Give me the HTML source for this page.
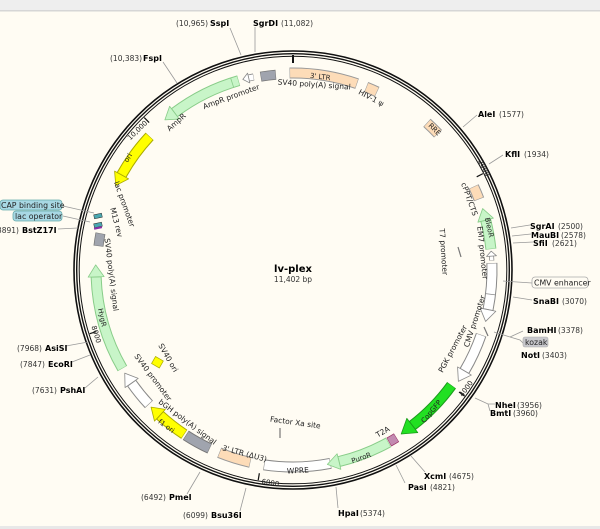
<!DOCTYPE html>
<html><head><meta charset="utf-8"><style>
html,body{margin:0;padding:0;background:#fffcf3;}
svg{display:block;font-family:"DejaVu Sans","Liberation Sans",sans-serif;}
.s{font-size:8px;font-weight:bold;fill:#000}
.n{font-size:7.5px;fill:#333}
.f{font-size:7.5px;fill:#222}
.t{font-size:7px;fill:#222}
</style></head><body>
<svg width="600" height="529" viewBox="0 0 600 529" xmlns="http://www.w3.org/2000/svg">
<rect x="0" y="0" width="600" height="10" fill="#eeeeee"/>
<rect x="0" y="10" width="600" height="1.5" fill="#d6d6d6"/>
<rect x="0" y="526" width="600" height="3" fill="#e8e8e8"/>

<g fill="none" stroke="#111">
<circle cx="293" cy="270" r="219" stroke-width="1.6"/>
<circle cx="293" cy="270" r="216.3" stroke-width="1.4"/>
<circle cx="293" cy="270" r="213.8" stroke-width="1"/>
</g>

<g stroke="#111" stroke-width="1.2">
<line x1="293" y1="55" x2="293" y2="63" stroke-width="2"/>
<g transform="translate(293 270) rotate(63.1)"><line x1="0" y1="-213" x2="0" y2="-206"/></g>
<g transform="translate(293 270) rotate(126.3)"><line x1="0" y1="-213" x2="0" y2="-206"/></g>
<g transform="translate(293 270) rotate(189.4)"><line x1="0" y1="-213" x2="0" y2="-206"/></g>
<g transform="translate(293 270) rotate(252.6)"><line x1="0" y1="-213" x2="0" y2="-206"/></g>
<g transform="translate(293 270) rotate(315.7)"><line x1="0" y1="-213" x2="0" y2="-206"/></g>
</g>
<g class="t">
<text x="482" y="169" transform="rotate(63 482 169)" text-anchor="middle">2000</text>
<text x="468" y="390" transform="rotate(-54 468 390)" text-anchor="middle">4000</text>
<text x="270" y="485" transform="rotate(9 270 485)" text-anchor="middle">6000</text>
<text x="94" y="335" transform="rotate(73 94 335)" text-anchor="middle">8000</text>
<text x="139" y="132" transform="rotate(-44 139 132)" text-anchor="middle">10,000</text>
</g>

<g fill="none" transform="rotate(-90 293 270)">
<circle cx="293" cy="270" r="197" pathLength="360" stroke="#999" stroke-width="11" stroke-dasharray="20 340" transform="rotate(-1 293 270)"/>
<circle cx="293" cy="270" r="197" pathLength="360" stroke="#fddcb8" stroke-width="9" stroke-dasharray="19.7 340.3" transform="rotate(-0.85 293 270)"/>
<circle cx="293" cy="270" r="197" pathLength="360" stroke="#999" stroke-width="11" stroke-dasharray="3.5 356.5" transform="rotate(21.8 293 270)"/>
<circle cx="293" cy="270" r="197" pathLength="360" stroke="#fddcb8" stroke-width="9" stroke-dasharray="3.2 356.8" transform="rotate(21.95 293 270)"/>
<circle cx="293" cy="270" r="199" pathLength="360" stroke="#999" stroke-width="11" stroke-dasharray="4.5 355.5" transform="rotate(42.3 293 270)"/>
<circle cx="293" cy="270" r="199" pathLength="360" stroke="#fddcb8" stroke-width="9" stroke-dasharray="4.2 355.8" transform="rotate(42.45 293 270)"/>
<circle cx="293" cy="270" r="199" pathLength="360" stroke="#999" stroke-width="11" stroke-dasharray="4 356" transform="rotate(65.2 293 270)"/>
<circle cx="293" cy="270" r="199" pathLength="360" stroke="#fddcb8" stroke-width="9" stroke-dasharray="3.7 356.3" transform="rotate(65.35 293 270)"/>
<circle cx="293" cy="270" r="199" pathLength="360" stroke="#8c8" stroke-width="11" stroke-dasharray="8.5 351.5" transform="rotate(75.5 293 270)"/>
<circle cx="293" cy="270" r="199" pathLength="360" stroke="#c8f5c8" stroke-width="9" stroke-dasharray="8.2 351.8" transform="rotate(75.65 293 270)"/>
<circle cx="293" cy="270" r="199" pathLength="360" stroke="#888" stroke-width="5" stroke-dasharray="1.3 358.7" transform="rotate(86 293 270)"/>
<circle cx="293" cy="270" r="199" pathLength="360" stroke="#fff" stroke-width="3.5" stroke-dasharray="1.1 358.9" transform="rotate(86.1 293 270)"/>
<circle cx="293" cy="270" r="199" pathLength="360" stroke="#888" stroke-width="11" stroke-dasharray="13.5 346.5" transform="rotate(88 293 270)"/>
<circle cx="293" cy="270" r="199" pathLength="360" stroke="#fff" stroke-width="9" stroke-dasharray="13.2 346.8" transform="rotate(88.15 293 270)"/>
<circle cx="293" cy="270" r="199" pathLength="360" stroke="#888" stroke-width="11" stroke-dasharray="11.5 348.5" transform="rotate(109 293 270)"/>
<circle cx="293" cy="270" r="199" pathLength="360" stroke="#fff" stroke-width="9" stroke-dasharray="11.2 348.8" transform="rotate(109.15 293 270)"/>
<circle cx="293" cy="270" r="196" pathLength="360" stroke="#1a9a1a" stroke-width="11" stroke-dasharray="16.5 343.5" transform="rotate(126 293 270)"/>
<circle cx="293" cy="270" r="196" pathLength="360" stroke="#22e022" stroke-width="9" stroke-dasharray="16.2 343.8" transform="rotate(126.15 293 270)"/>
<circle cx="293" cy="270" r="197" pathLength="360" stroke="#936" stroke-width="10" stroke-dasharray="2.6 357.4" transform="rotate(148.3 293 270)"/>
<circle cx="293" cy="270" r="197" pathLength="360" stroke="#c38ab0" stroke-width="8.5" stroke-dasharray="2.3 357.7" transform="rotate(148.45 293 270)"/>
<circle cx="293" cy="270" r="197" pathLength="360" stroke="#8c8" stroke-width="11" stroke-dasharray="15.5 344.5" transform="rotate(151 293 270)"/>
<circle cx="293" cy="270" r="197" pathLength="360" stroke="#c8f5c8" stroke-width="9" stroke-dasharray="15.2 344.8" transform="rotate(151.15 293 270)"/>
<circle cx="293" cy="270" r="197" pathLength="360" stroke="#888" stroke-width="11" stroke-dasharray="19.5 340.5" transform="rotate(169 293 270)"/>
<circle cx="293" cy="270" r="197" pathLength="360" stroke="#fff" stroke-width="9" stroke-dasharray="19.2 340.8" transform="rotate(169.15 293 270)"/>
<circle cx="293" cy="270" r="197" pathLength="360" stroke="#999" stroke-width="11" stroke-dasharray="9.5 350.5" transform="rotate(192.5 293 270)"/>
<circle cx="293" cy="270" r="197" pathLength="360" stroke="#fddcb8" stroke-width="9" stroke-dasharray="9.2 350.8" transform="rotate(192.65 293 270)"/>
<circle cx="293" cy="270" r="197" pathLength="360" stroke="#777" stroke-width="11" stroke-dasharray="8 352" transform="rotate(205 293 270)"/>
<circle cx="293" cy="270" r="197" pathLength="360" stroke="#a0a4ae" stroke-width="9" stroke-dasharray="7.7 352.3" transform="rotate(205.15 293 270)"/>
<!-- f1 ori 213.5-222.5 -->
<circle cx="293" cy="270" r="197" pathLength="360" stroke="#aa0" stroke-width="11" stroke-dasharray="9 351" transform="rotate(213.5 293 270)"/>
<circle cx="293" cy="270" r="197" pathLength="360" stroke="#ffff00" stroke-width="9" stroke-dasharray="8.7 351.3" transform="rotate(213.65 293 270)"/>
<!-- SV40 prom 227-235 -->
<circle cx="293" cy="270" r="197" pathLength="360" stroke="#888" stroke-width="11" stroke-dasharray="8 352" transform="rotate(227 293 270)"/>
<circle cx="293" cy="270" r="197" pathLength="360" stroke="#fff" stroke-width="9" stroke-dasharray="7.7 352.3" transform="rotate(227.15 293 270)"/>
<!-- HygR 240-268 -->
<circle cx="293" cy="270" r="197" pathLength="360" stroke="#8c8" stroke-width="11" stroke-dasharray="28 332" transform="rotate(240 293 270)"/>
<circle cx="293" cy="270" r="197" pathLength="360" stroke="#c8f5c8" stroke-width="9" stroke-dasharray="27.7 332.3" transform="rotate(240.15 293 270)"/>
<circle cx="293" cy="270" r="196" pathLength="360" stroke="#777" stroke-width="10" stroke-dasharray="3.8 356.2" transform="rotate(277 293 270)"/>
<circle cx="293" cy="270" r="196" pathLength="360" stroke="#a0a4ae" stroke-width="8.5" stroke-dasharray="3.5 356.5" transform="rotate(277.15 293 270)"/>
<circle cx="293" cy="270" r="196" pathLength="360" stroke="#aa0" stroke-width="11" stroke-dasharray="14 346" transform="rotate(299 293 270)"/>
<circle cx="293" cy="270" r="196" pathLength="360" stroke="#ffff00" stroke-width="9" stroke-dasharray="13.7 346.3" transform="rotate(299.15 293 270)"/>
<circle cx="293" cy="270" r="197" pathLength="360" stroke="#8c8" stroke-width="11" stroke-dasharray="21 339" transform="rotate(323 293 270)"/>
<circle cx="293" cy="270" r="197" pathLength="360" stroke="#c8f5c8" stroke-width="9" stroke-dasharray="20.7 339.3" transform="rotate(323.15 293 270)"/>
<circle cx="293" cy="270" r="197" pathLength="360" stroke="#888" stroke-width="7" stroke-dasharray="1.5 358.5" transform="rotate(347 293 270)"/>
<circle cx="293" cy="270" r="197" pathLength="360" stroke="#fff" stroke-width="5.5" stroke-dasharray="1.3 358.7" transform="rotate(347.1 293 270)"/>
<circle cx="293" cy="270" r="196" pathLength="360" stroke="#777" stroke-width="10" stroke-dasharray="4.5 355.5" transform="rotate(350.5 293 270)"/>
<circle cx="293" cy="270" r="196" pathLength="360" stroke="#a0a4ae" stroke-width="8.5" stroke-dasharray="4.2 355.8" transform="rotate(350.65 293 270)"/>
</g>

<g stroke-width="0.8" stroke-linejoin="round">
<g transform="translate(293 270) rotate(75.5)"><polygon points="0,-207 0,-191 -12,-199" fill="#c8f5c8" stroke="#8c8"/></g>
<g transform="translate(293 270) rotate(86)"><polygon points="0,-204 0,-194 -5,-199" fill="#fff" stroke="#888"/></g>
<g transform="translate(293 270) rotate(101.5)"><polygon points="0,-207 0,-191 12,-199" fill="#fff" stroke="#888"/></g>
<g transform="translate(293 270) rotate(120.5)"><polygon points="0,-207 0,-191 12,-199" fill="#fff" stroke="#888"/></g>
<g transform="translate(293 270) rotate(142.5)"><polygon points="0,-205 0,-187 14,-196" fill="#22e022" stroke="#1a9a1a"/></g>
<g transform="translate(293 270) rotate(166.5)"><polygon points="0,-205 0,-189 12,-197" fill="#c8f5c8" stroke="#8c8"/></g>
<g transform="translate(293 270) rotate(222.5)"><polygon points="0,-205 0,-189 12,-197" fill="#ffff00" stroke="#aa0"/></g>
<g transform="translate(293 270) rotate(235)"><polygon points="0,-205 0,-189 12,-197" fill="#fff" stroke="#888"/></g>
<g transform="translate(293 270) rotate(268)"><polygon points="0,-205 0,-189 12,-197" fill="#c8f5c8" stroke="#8c8"/></g>
<g transform="translate(293 270) rotate(299)"><polygon points="0,-204 0,-188 -12,-196" fill="#ffff00" stroke="#aa0"/></g>
<g transform="translate(293 270) rotate(323)"><polygon points="0,-205 0,-189 -12,-197" fill="#c8f5c8" stroke="#8c8"/></g>
<g transform="translate(293 270) rotate(347)"><polygon points="0,-202 0,-192 -6,-197" fill="#fff" stroke="#888"/></g>
</g>
<g transform="translate(293 270) rotate(342)"><line x1="0" y1="-202" x2="0" y2="-192" stroke="#8c8" stroke-width="0.8"/></g>
<g transform="translate(293 270) rotate(97)"><line x1="0" y1="-204" x2="0" y2="-194" stroke="#888" stroke-width="0.8"/></g>

<g stroke="#777" stroke-width="1.2">
<line x1="458" y1="247" x2="461" y2="257"/>
<line x1="484" y1="327" x2="488" y2="336"/>
<line x1="280" y1="428" x2="280" y2="438"/>
</g>
<rect x="153" y="358" width="9" height="8" fill="#ffff00" stroke="#aa0" stroke-width="0.7" transform="rotate(30 157 362)"/>
<rect x="94" y="214" width="8" height="4" fill="#4aa8b0" stroke="#333" stroke-width="0.5" transform="rotate(-12 98 216)"/>
<rect x="94" y="223" width="8" height="4" fill="#4aa8b0" stroke="#333" stroke-width="0.5" transform="rotate(-12 98 225)"/>
<rect x="94" y="227" width="8" height="2" fill="#8a2fa8" transform="rotate(-12 98 228)"/>

<g class="f" text-anchor="middle">
<text x="320" y="79" transform="rotate(7 320 79)" font-size="7">3' LTR</text>
<text x="314" y="87" transform="rotate(4 314 87)">SV40 poly(A) signal</text>
<text x="370" y="100" transform="rotate(28 370 100)">HIV-1 ψ</text>
<text x="232" y="99" transform="rotate(-20 232 99)">AmpR promoter</text>
<text x="178" y="124" transform="rotate(-42 178 124)">AmpR</text>
<text x="433" y="131" transform="rotate(45 433 131)" font-size="7">RRE</text>
<text x="467" y="200" transform="rotate(70 467 200)">cPPT/CTS</text>
<text x="487" y="228" transform="rotate(78 487 228)" font-size="7">BleoR</text>
<text x="480" y="253" transform="rotate(84 480 253)">EM7 promoter</text>
<text x="441" y="252" transform="rotate(86 441 252)">T7 promoter</text>
<text x="477" y="322" transform="rotate(-72 477 322)">CMV promoter</text>
<text x="455" y="350" transform="rotate(-62 455 350)">PGK promoter</text>
<text x="433" y="413" transform="rotate(-50 433 413)" font-size="7">CopGFP</text>
<text x="384" y="434" transform="rotate(-30 384 434)">T2A</text>
<text x="362" y="460" transform="rotate(-19 362 460)" font-size="7">PuroR</text>
<text x="298" y="473" transform="rotate(-3 298 473)">WPRE</text>
<text x="295" y="425" transform="rotate(8 295 425)">Factor Xa site</text>
<text x="244" y="456" transform="rotate(15 244 456)">3' LTR (ΔU3)</text>
<text x="186" y="424" transform="rotate(37 186 424)">bGH poly(A) signal</text>
<text x="165" y="428" transform="rotate(36 165 428)" font-size="7">f1 ori</text>
<text x="151" y="379" transform="rotate(53 151 379)">SV40 promoter</text>
<text x="166" y="359" transform="rotate(60 166 359)">SV40 ori</text>
<text x="100" y="318" transform="rotate(78 100 318)" font-size="7">HygR</text>
<text x="109" y="275" transform="rotate(83 109 275)">SV40 poly(A) signal</text>
<text x="114" y="223" transform="rotate(75 114 223)">M13 rev</text>
<text x="122" y="205" transform="rotate(70 122 205)">lac promoter</text>
<text x="130" y="159" transform="rotate(-58 130 159)" font-size="7">ori</text>
</g>

<text x="293" y="272" text-anchor="middle" style="font-size:10px;font-weight:bold">lv-plex</text>
<text x="293" y="282" text-anchor="middle" style="font-size:7.5px" fill="#333">11,402 bp</text>

<g stroke="#999" stroke-width="0.8" fill="none">
<line x1="241" y1="55" x2="230" y2="28"/>
<line x1="255" y1="52" x2="255" y2="27"/>
<line x1="177" y1="83" x2="163" y2="62"/>
<line x1="463" y1="127" x2="477" y2="115"/>
<line x1="489" y1="164" x2="503" y2="155"/>
<line x1="511" y1="228" x2="530" y2="225"/>
<line x1="512" y1="236" x2="531" y2="234"/>
<line x1="513" y1="243" x2="533" y2="242"/>
<line x1="503" y1="281" x2="532" y2="283"/>
<line x1="513" y1="297" x2="532" y2="300"/>
<line x1="494" y1="332" x2="510" y2="337"/>
<polyline points="510,337 523,331"/>
<polyline points="510,337 520,340 526,346"/>
<polyline points="475,398 488,404 495,404"/>
<line x1="488" y1="404" x2="490" y2="411"/>
<line x1="411" y1="456" x2="425" y2="472"/>
<line x1="396" y1="465" x2="405" y2="483"/>
<line x1="336" y1="487" x2="338" y2="508"/>
<line x1="246" y1="488" x2="240" y2="511"/>
<line x1="200" y1="472" x2="187" y2="494"/>
<line x1="98" y1="377" x2="85" y2="388"/>
<line x1="90" y1="355" x2="72" y2="362"/>
<line x1="88" y1="342" x2="66" y2="346"/>
<line x1="78" y1="228" x2="58" y2="229"/>
<line x1="90" y1="222" x2="63" y2="216"/>
<line x1="94" y1="213" x2="63" y2="206"/>
</g>

<g>
<text x="176" y="26" class="n">(10,965)</text><text x="210" y="26" class="s">SspI</text>
<text x="253" y="26" class="s">SgrDI</text><text x="281" y="26" class="n">(11,082)</text>
<text x="110" y="61" class="n">(10,383)</text><text x="143" y="61" class="s">FspI</text>
<text x="478" y="117" class="s">AleI</text><text x="499" y="117" class="n">(1577)</text>
<text x="505" y="157" class="s">KflI</text><text x="524" y="157" class="n">(1934)</text>
<text x="530" y="229" class="s">SgrAI</text><text x="558" y="229" class="n">(2500)</text>
<text x="531" y="238" class="s">MauBI</text><text x="561" y="238" class="n">(2578)</text>
<text x="533" y="246" class="s">SfiI</text><text x="552" y="246" class="n">(2621)</text>
<text x="533" y="304" class="s">SnaBI</text><text x="562" y="304" class="n">(3070)</text>
<text x="527" y="333" class="s">BamHI</text><text x="558" y="333" class="n">(3378)</text>
<text x="521" y="358" class="s">NotI</text><text x="542" y="358" class="n">(3403)</text>
<text x="495" y="408" class="s">NheI</text><text x="517" y="408" class="n">(3956)</text>
<text x="490" y="416" class="s">BmtI</text><text x="513" y="416" class="n">(3960)</text>
<text x="424" y="479" class="s">XcmI</text><text x="449" y="479" class="n">(4675)</text>
<text x="408" y="490" class="s">PasI</text><text x="430" y="490" class="n">(4821)</text>
<text x="338" y="516" class="s">HpaI</text><text x="360" y="516" class="n">(5374)</text>
<text x="183" y="518" class="n">(6099)</text><text x="211" y="518" class="s">Bsu36I</text>
<text x="141" y="500" class="n">(6492)</text><text x="169" y="500" class="s">PmeI</text>
<text x="32" y="393" class="n">(7631)</text><text x="60" y="393" class="s">PshAI</text>
<text x="20" y="367" class="n">(7847)</text><text x="48" y="367" class="s">EcoRI</text>
<text x="17" y="351" class="n">(7968)</text><text x="45" y="351" class="s">AsiSI</text>
<text x="-6" y="233" class="n">(8891)</text><text x="22" y="233" class="s">BstZ17I</text>
</g>
<rect x="532" y="277" width="56" height="11" rx="3" fill="#fffcf3" stroke="#aaa" stroke-width="0.8"/>
<text x="534" y="285.5" class="f" style="font-size:7.8px">CMV enhancer</text>
<rect x="523" y="337" width="25" height="10" rx="2" fill="#c8c8cc" stroke="#aaa" stroke-width="0.6"/>
<text x="525" y="345" class="f" style="font-size:7.8px">kozak</text>
<rect x="13" y="211" width="49" height="10" rx="3" fill="#a8d8e4" stroke="#6aa" stroke-width="0.8"/>
<text x="15" y="219" class="f" style="font-size:7.8px">lac operator</text>
<rect x="0" y="200" width="62" height="10" rx="3" fill="#a8d8e4" stroke="#6aa" stroke-width="0.8"/>
<text x="1" y="208" class="f" style="font-size:7.8px">CAP binding site</text>
</svg>
</body></html>
